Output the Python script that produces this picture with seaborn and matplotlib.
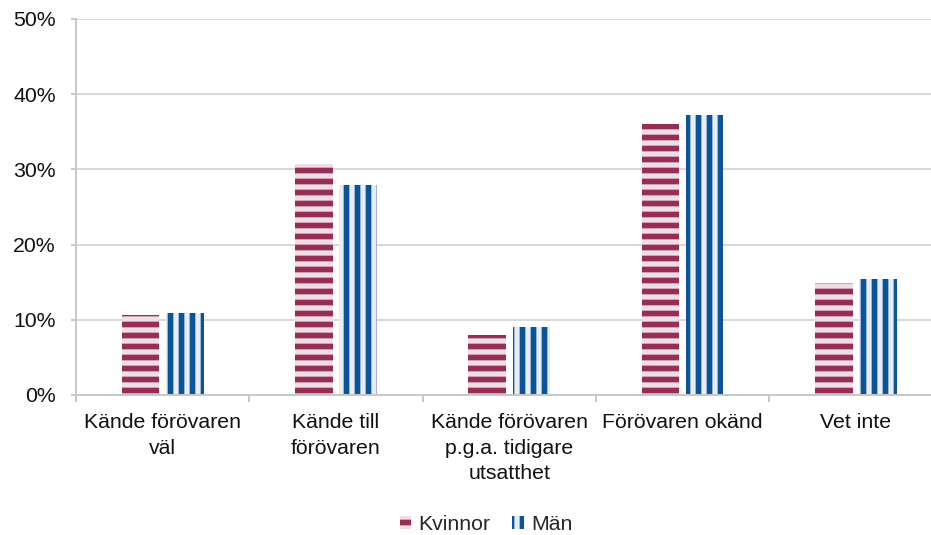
import numpy as np
import pandas as pd
import matplotlib
matplotlib.use('Agg')
import matplotlib.pyplot as plt
import seaborn as sns
from matplotlib.patches import Patch
from matplotlib.ticker import PercentFormatter, FixedLocator

#%% DATA
categories = ['Kände förövaren\nväl', 'Kände till\nförövaren',
              'Kände förövaren\np.g.a. tidigare\nutsatthet', 'Förövaren okänd', 'Vet inte']
groups = ['Kvinnor', 'Män']
kvinnor = [10.6, 30.7, 8.0, 36.0, 14.9]
man = [10.9, 27.9, 9.0, 37.2, 15.4]

light = {'Kvinnor': '#f2dbe4', 'Män': '#e7edf5'}
dark = {'Kvinnor': '#962e56', 'Män': '#0a5499'}
hatches = {'Kvinnor': '--', 'Män': '||'}

df = pd.DataFrame({
    'kategori': categories * 2,
    'kön': ['Kvinnor'] * len(categories) + ['Män'] * len(categories),
    'andel': kvinnor + man,
})

#%% STYLE
sns.set_style('white')
plt.rcParams['font.family'] = ['Liberation Sans', 'DejaVu Sans']
plt.rcParams['hatch.linewidth'] = 3.1
DPI = 132
FS = 11.6

#%% PLOT
fig = plt.figure(figsize=(931 / DPI, 535 / DPI), dpi=DPI)
ax = fig.add_axes([76 / 931, 1 - 395 / 535, (942.5 - 76) / 931, (395 - 19) / 535])

sns.barplot(data=df, x='kategori', y='andel', hue='kön', hue_order=groups,
            palette=[light[g] for g in groups], width=0.51, gap=0.15,
            legend=False, ax=ax, linewidth=0)

for cont, g in zip(ax.containers, groups):
    for bar in cont:
        bar.set_hatch(hatches[g])
        bar.set_edgecolor(dark[g])
        bar.set_linewidth(0)

ax.set_ylim(0, 50)
ax.set_xlim(-0.5, len(categories) - 0.5)
ax.set_yticks(np.arange(0, 51, 10))
ax.yaxis.set_major_formatter(PercentFormatter(xmax=100, decimals=0))
ax.yaxis.grid(True, color='#d9d9d9', linewidth=1.1)
ax.set_axisbelow(True)
ax.set_xlabel('')
ax.set_ylabel('')

for side in ['top', 'right']:
    ax.spines[side].set_visible(False)
for side in ['left', 'bottom']:
    ax.spines[side].set_color('#c8c8c8')
    ax.spines[side].set_linewidth(1.1)

ax.set_xticks(range(len(categories)))
ax.set_xticklabels(categories)
ax.tick_params(axis='y', which='major', length=3, width=1.1, color='#c8c8c8',
               pad=8, labelsize=FS, labelcolor='#111111', left=True)
ax.tick_params(axis='x', which='major', length=0, pad=10, labelsize=FS,
               labelcolor='#111111')
ax.xaxis.set_minor_locator(FixedLocator(np.arange(-0.5, len(categories), 1.0)))
ax.tick_params(axis='x', which='minor', length=4, width=1.1, color='#c8c8c8',
               bottom=True)
for tick in ax.xaxis.get_major_ticks():
    tick.label1.set_linespacing(1.42)

handles = [Patch(facecolor=light[g], edgecolor=dark[g], hatch=hatches[g], linewidth=0)
           for g in groups]
fig.legend(handles, groups, loc='lower center', bbox_to_anchor=(0.522, -0.034),
           ncol=2, frameon=False, fontsize=FS, handlelength=0.55, handleheight=0.55,
           handletextpad=0.35, columnspacing=1.0)

fig.savefig('out.png', dpi=DPI)
